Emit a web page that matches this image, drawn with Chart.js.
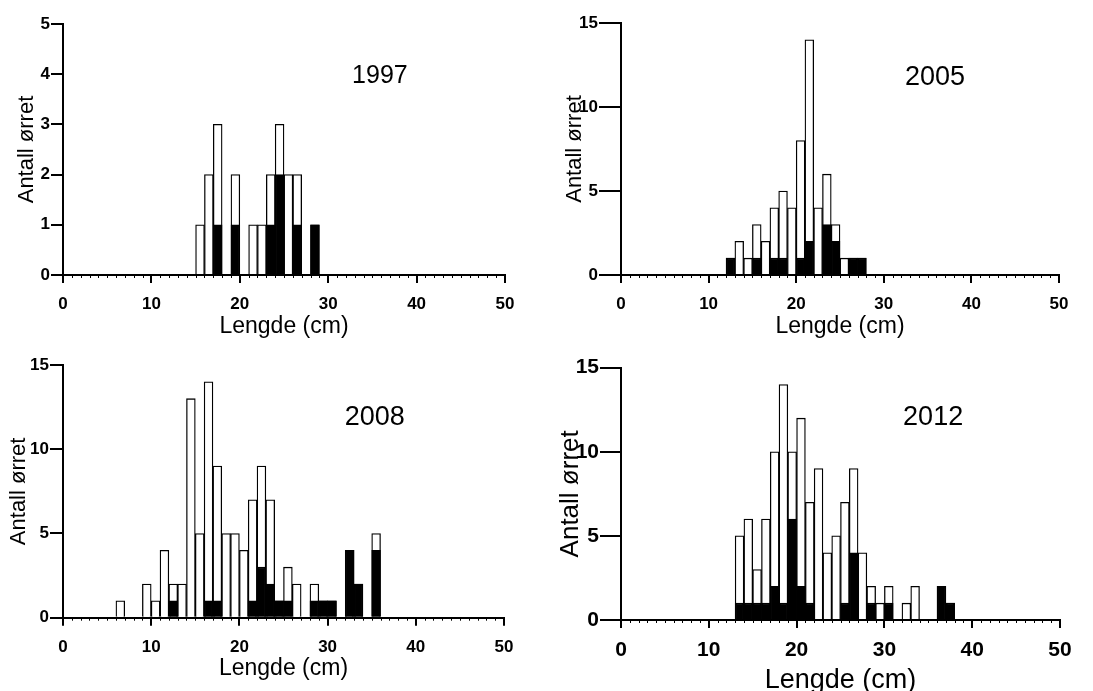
<!DOCTYPE html>
<html>
<head>
<meta charset="utf-8">
<script src="https://cdn.jsdelivr.net/npm/chart.js@4.4.1/dist/chart.umd.min.js"></script>
<style>
  html, body { margin: 0; padding: 0; overflow: hidden; background: #fff; }
  #wrap { position: relative; width: 1093px; height: 691px; }
  canvas { position: absolute; background: #fff; }
</style>
</head>
<body>
<div id="wrap">
  <canvas id="c1997" width="546" height="345" style="left:0;top:0"></canvas>
  <canvas id="c2005" width="547" height="345" style="left:546px;top:0"></canvas>
  <canvas id="c2008" width="546" height="353" style="left:0;top:338px"></canvas>
  <canvas id="c2012" width="547" height="370" style="left:546px;top:338px"></canvas>
</div>
<script>
// lengdeklasser (cm, nedre grense) med antall ørret: totalt og svart del
const bins1997  = [15, 16, 17, 19, 21, 22, 23, 24, 25, 26, 28];
const total1997 = [ 1,  2,  3,  2,  1,  1,  2,  3,  2,  2,  1];
const black1997 = [ 0,  0,  1,  1,  0,  0,  1,  2,  0,  1,  1];

const bins2005  = [12, 13, 14, 15, 16, 17, 18, 19, 20, 21, 22, 23, 24, 25, 26, 27];
const total2005 = [ 1,  2,  1,  3,  2,  4,  5,  4,  8, 14,  4,  6,  3,  1,  1,  1];
const black2005 = [ 1,  0,  0,  1,  0,  1,  1,  0,  1,  2,  0,  3,  2,  0,  1,  1];

const bins2008  = [6, 9, 10, 11, 12, 13, 14, 15, 16, 17, 18, 19, 20, 21, 22, 23, 24, 25, 26, 28, 29, 30, 32, 33, 35];
const total2008 = [1, 2,  1,  4,  2,  2, 13,  5, 14,  9,  5,  5,  4,  7,  9,  7,  1,  3,  2,  2,  1,  1,  4,  2,  5];
const black2008 = [0, 0,  0,  0,  1,  0,  0,  0,  1,  1,  0,  0,  0,  1,  3,  2,  1,  1,  0,  1,  1,  1,  4,  2,  4];

const bins2012  = [13, 14, 15, 16, 17, 18, 19, 20, 21, 22, 23, 24, 25, 26, 27, 28, 29, 30, 32, 33, 36, 37];
const total2012 = [ 5,  6,  3,  6, 10, 14, 10, 12,  7,  9,  4,  5,  7,  9,  4,  2,  1,  2,  1,  2,  2,  1];
const black2012 = [ 1,  1,  1,  1,  2,  1,  6,  2,  1,  0,  0,  0,  1,  4,  0,  1,  0,  1,  0,  0,  2,  1];

const xTicks = [0, 10, 20, 30, 40, 50];
const FONT = "'Liberation Sans', Arial, Helvetica, sans-serif";
const TICK_FONT = "'Liberation Sans Narrow', 'Arial Narrow', 'Liberation Sans', Arial, sans-serif";

// små mellomstreker for hver cm på x-aksen
const minorTicks = {
    id: 'minorTicks',
    afterDraw(chart) {
        const x = chart.scales.x;
        const { ctx } = chart;
        ctx.save();
        ctx.strokeStyle = '#000';
        ctx.lineWidth = 1;
        for (let v = x.min; v <= x.max; v++) {
            const px = Math.round(x.getPixelForValue(v)) + 0.5;
            ctx.beginPath();
            ctx.moveTo(px, x.top);
            ctx.lineTo(px, x.top + 3);
            ctx.stroke();
        }
        ctx.restore();
    }
};

// årstall inne i plottet
const yearLabel = {
    id: 'yearLabel',
    afterDraw(chart, args, opts) {
        const { ctx, chartArea: a } = chart;
        ctx.save();
        ctx.font = `${opts.size}px ${FONT}`;
        ctx.fillStyle = '#000';
        ctx.textAlign = 'center';
        ctx.textBaseline = 'alphabetic';
        ctx.fillText(opts.text, a.left + opts.fx * a.width, a.top + opts.fy * a.height);
        ctx.restore();
    }
};

function toPoints(bins, counts) {
    return bins.map((b, i) => ({ x: b + 0.5, y: counts[i] })).filter(p => p.y > 0);
}

function makeChart(id, bins, totals, blacks, cfg) {
    const tickFont = { family: TICK_FONT, size: cfg.tickSize, weight: 'bold' };
    return new Chart(document.getElementById(id).getContext('2d'), {
        type: 'bar',
        plugins: [minorTicks, yearLabel],
        data: {
            datasets: [
                { label: 'svart', data: toPoints(bins, blacks), backgroundColor: '#000', borderColor: '#000', borderWidth: 1.3 },
                { label: 'totalt', data: toPoints(bins, totals), backgroundColor: '#fff', borderColor: '#000', borderWidth: 1.3 }
            ]
        },
        options: {
            responsive: false,
            animation: false,
            events: [],
            layout: { padding: cfg.pad },
            datasets: { bar: { grouped: false, barPercentage: 1, categoryPercentage: 1 } },
            plugins: {
                legend: { display: false },
                tooltip: { enabled: false },
                yearLabel: cfg.year
            },
            scales: {
                x: {
                    type: 'linear',
                    min: 0, max: 50,
                    offset: false,
                    afterBuildTicks(s) { s.ticks = xTicks.map(v => ({ value: v })); },
                    afterFit(s) { s.height = cfg.xH; },
                    ticks: { color: '#000', font: tickFont, padding: cfg.xTickPad, maxRotation: 0 },
                    grid: { offset: false, drawOnChartArea: false, drawTicks: true, tickLength: 8, color: '#000', lineWidth: 2 },
                    border: { color: '#000', width: 2 },
                    title: { display: true, text: 'Lengde (cm)', color: '#000', font: { family: FONT, size: cfg.xTitleSize }, padding: { top: 0, bottom: cfg.xTitlePad } }
                },
                y: {
                    min: 0, max: cfg.yMax,
                    afterFit(s) { s.width = cfg.yW; },
                    ticks: { stepSize: cfg.yStep, color: '#000', font: tickFont, padding: 1 },
                    grid: { drawOnChartArea: false, drawTicks: true, tickLength: cfg.yTickLen, color: '#000', lineWidth: 2 },
                    border: { color: '#000', width: 2 },
                    title: { display: true, text: 'Antall ørret', color: '#000', font: { family: FONT, size: cfg.yTitleSize }, padding: { top: cfg.yTitlePad, bottom: 0 } }
                }
            }
        }
    });
}

makeChart('c1997', bins1997, total1997, black1997, {
    pad: { left: 0, top: 24, right: 41, bottom: 0 }, xH: 70, yW: 63,
    yMax: 5, yStep: 1, yTickLen: 12, tickSize: 17, xTickPad: 11,
    xTitleSize: 23, xTitlePad: 5, yTitleSize: 22, yTitlePad: 13.5,
    year: { text: '1997', size: 25, fx: 0.717, fy: 0.234 }
});
makeChart('c2005', bins2005, total2005, black2005, {
    pad: { left: 0, top: 23, right: 34, bottom: 0 }, xH: 70, yW: 75,
    yMax: 15, yStep: 5, yTickLen: 22, tickSize: 17, xTickPad: 11,
    xTitleSize: 23, xTitlePad: 5, yTitleSize: 22, yTitlePad: 16,
    year: { text: '2005', size: 27, fx: 0.717, fy: 0.246 }
});
makeChart('c2008', bins2008, total2008, black2008, {
    pad: { left: 0, top: 27, right: 42, bottom: 0 }, xH: 73.3, yW: 63,
    yMax: 15, yStep: 5, yTickLen: 13, tickSize: 17, xTickPad: 11,
    xTitleSize: 23, xTitlePad: 8.7, yTitleSize: 22, yTitlePad: 5.3,
    year: { text: '2008', size: 27, fx: 0.707, fy: 0.237 }
});
makeChart('c2012', bins2012, total2012, black2012, {
    pad: { left: 0, top: 29.7, right: 33, bottom: 0 }, xH: 88, yW: 75,
    yMax: 15, yStep: 5, yTickLen: 21, tickSize: 21, xTickPad: 10,
    xTitleSize: 27, xTitlePad: 10.8, yTitleSize: 26, yTitlePad: 9.4,
    year: { text: '2012', size: 27, fx: 0.711, fy: 0.227 }
});
</script>
</body>
</html>
